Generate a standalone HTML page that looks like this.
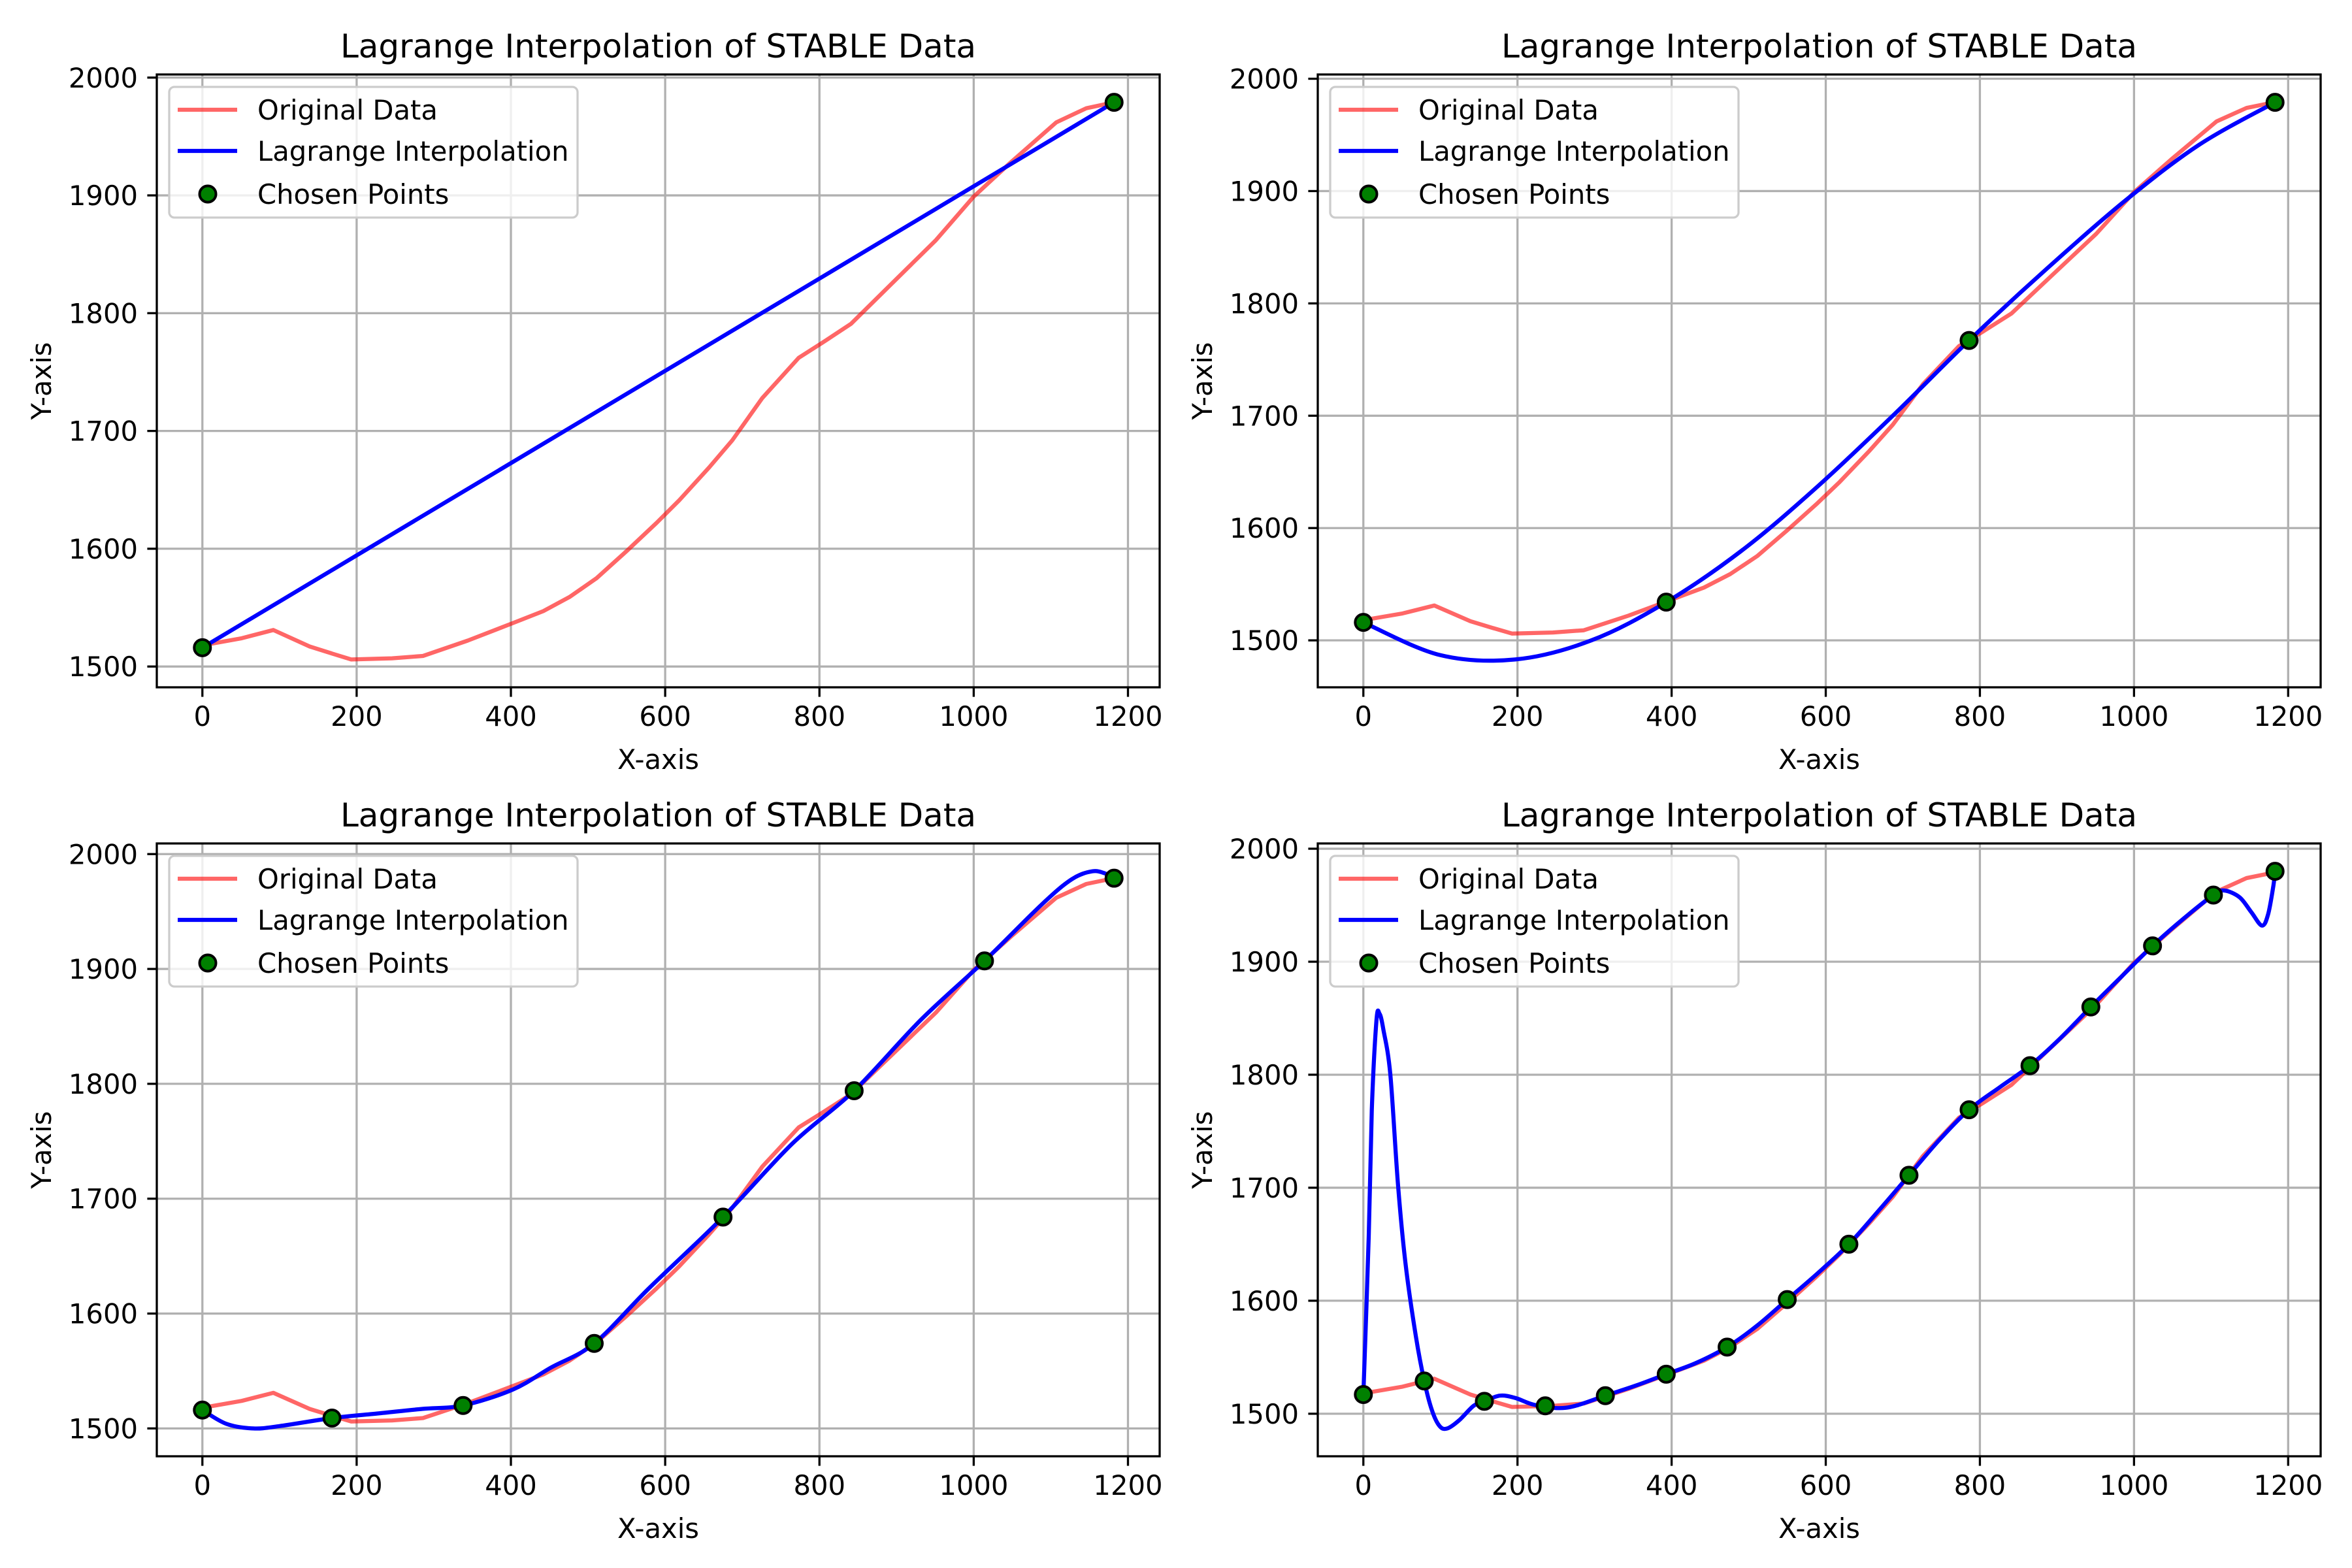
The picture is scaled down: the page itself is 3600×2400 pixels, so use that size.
<!DOCTYPE html>
<html>
<head>
<meta charset="utf-8">
<style>
html,body{margin:0;padding:0;background:#fff;}
svg{display:block;}
text{font-family:"DejaVu Sans","Liberation Sans",sans-serif;fill:#000;}
</style>
</head>
<body>
<svg id="fig" xmlns="http://www.w3.org/2000/svg" width="3600" height="2400" viewBox="0 0 3600 2400">
<rect x="0" y="0" width="3600" height="2400" fill="#ffffff"/>
</svg>
<script>
// ---- data ----
const origX = [0,51,92,139,168,193,246,286,344,403,442,476,511,550,589,618,657,687,726,773,804,841,892,951,1000,1048,1107,1146,1182];
const origY = [1518,1524,1531,1517,1511,1506,1507,1509,1522,1537,1547,1559,1575,1598,1622,1641,1669,1692,1728,1762,1775,1791,1824,1862,1899,1928,1962,1974,1979];

const chosenX1 = [0,1182];
const chosenY1 = [1516,1979];
const lagX1 = [0,1182];
const lagY1 = [1516,1979];

const chosenX2 = [0,393,786,1183];
const chosenY2 = [1516,1534,1767,1979];
const lagX2 = [0,99,197,296,393,493,591,690,786,887,986,1084,1183];
const lagY2 = [1516,1487,1483,1500,1534,1581,1638,1702,1767,1831,1890,1941,1979];

const chosenX3 = [0,168,338,508,675,845,1014,1182];
const chosenY3 = [1516,1509,1520,1574,1684,1794,1907,1979];
const lagX3 = [0,31,66,100,168,227,285,338,403,452,508,579,675,765,845,932,1014,1088,1127,1154,1171,1182];
const lagY3 = [1516,1504,1500,1502,1509,1513,1517,1520,1534,1553,1574,1622,1684,1748,1794,1856,1907,1956,1978,1985,1983,1979];

const chosenX4 = [0,79,157,236,314,393,472,550,630,708,786,865,944,1024,1103,1183];
const chosenY4 = [1517,1529,1511,1507,1516,1535,1559,1601,1650,1711,1769,1808,1860,1914,1959,1980];
const lagX4 = [0,7,11,17,21,26,35,45,55,68,79,89,99,109,124,143,157,177,197,221,251,275,314,354,393,432,472,511,550,589,630,669,708,747,786,826,865,904,944,984,1024,1064,1103,1117,1137,1152,1166,1174,1181,1183];
const lagY4 = [1517,1657,1769,1848,1854,1840,1800,1702,1631,1569,1529,1503,1489,1487,1494,1507,1511,1516,1514,1508,1505,1507,1516,1525,1535,1545,1559,1578,1601,1624,1650,1680,1711,1742,1769,1789,1808,1832,1860,1887,1914,1938,1959,1963,1957,1944,1932,1942,1968,1980];

const xTicks = [0,200,400,600,800,1000,1200];
const yTicks = [1500,1600,1700,1800,1900,2000];
const titleText = "Lagrange Interpolation of STABLE Data";
const legendLabels = ["Original Data","Lagrange Interpolation","Chosen Points"];

// ---- rendering ----
const NS = "http://www.w3.org/2000/svg";
const fig = document.getElementById('fig');
function mk(tag, attrs, parent){
  const e = document.createElementNS(NS, tag);
  for (const k in attrs) e.setAttribute(k, attrs[k]);
  (parent||fig).appendChild(e);
  return e;
}
function pathFrom(xs, ys, sx, sy){
  let d = '';
  for (let i=0;i<xs.length;i++){
    d += (i?'L':'M') + sx(xs[i]).toFixed(1) + ',' + sy(ys[i]).toFixed(1);
  }
  return d;
}
function smoothPath(xs, ys, sx, sy){
  const P = xs.map((x,i)=>[sx(x), sy(ys[i])]);
  if (P.length < 3) return pathFrom(xs, ys, sx, sy);
  let d = 'M'+P[0][0].toFixed(1)+','+P[0][1].toFixed(1);
  for (let i=0;i<P.length-1;i++){
    const p0 = P[Math.max(0,i-1)], p1 = P[i], p2 = P[i+1], p3 = P[Math.min(P.length-1,i+2)];
    const c1x = p1[0]+(p2[0]-p0[0])/6, c1y = p1[1]+(p2[1]-p0[1])/6;
    const c2x = p2[0]-(p3[0]-p1[0])/6, c2y = p2[1]-(p3[1]-p1[1])/6;
    d += 'C'+c1x.toFixed(1)+','+c1y.toFixed(1)+' '+c2x.toFixed(1)+','+c2y.toFixed(1)+' '+p2[0].toFixed(1)+','+p2[1].toFixed(1);
  }
  return d;
}

function drawPanel(idx, left, top, cx, cy, lx, ly){
  const W = 1535, H = 938;
  const g = mk('g', {});
  
  
  const allX = origX.concat(cx, lx);
  const allY = origY.concat(cy, ly);
  const xmin = Math.min(...allX), xmax = Math.max(...allX);
  const ymin = Math.min(...allY), ymax = Math.max(...allY);
  const xm = (xmax-xmin)*0.05, ym = (ymax-ymin)*0.05;
  const x0 = xmin-xm, x1 = xmax+xm, y0 = ymin-ym, y1 = ymax+ym;
  const sx = v => left + (v-x0)/(x1-x0)*W;
  const sy = v => top + H - (v-y0)/(y1-y0)*H;

  const grid = mk('g', {}, g);
  
  
  xTicks.forEach(t=>{
    const X = sx(t);
    if (X < left-1 || X > left+W+1) return;
    const l = mk('line', {x1:X, y1:top, x2:X, y2:top+H, stroke:'#b0b0b0', 'stroke-width':3.3}, grid);
    
    
  });
  yTicks.forEach(t=>{
    const Y = sy(t);
    if (Y < top-1 || Y > top+H+1) return;
    const l = mk('line', {x1:left, y1:Y, x2:left+W, y2:Y, stroke:'#b0b0b0', 'stroke-width':3.3}, grid);
    
    
  });

  const cid = 'clip'+idx;
  const cp = mk('clipPath', {id:cid}, g);
  mk('rect', {x:left, y:top, width:W, height:H}, cp);
  const plot = mk('g', {'clip-path':'url(#'+cid+')'}, g);

  const red = mk('path', {d:pathFrom(origX, origY, sx, sy), fill:'none', stroke:'#ff0000', 'stroke-opacity':0.6, 'stroke-width':6.25, 'stroke-linejoin':'round', 'stroke-linecap':'square'}, plot);
  
  
  const blue = mk('path', {d:smoothPath(lx, ly, sx, sy), fill:'none', stroke:'#0000ff', 'stroke-width':6.25, 'stroke-linejoin':'round', 'stroke-linecap':'square'}, plot);
  
  
  cx.forEach((x,i)=>{
    const c = mk('circle', {cx:sx(x), cy:sy(cy[i]), r:12.5, fill:'#008000', stroke:'#000', 'stroke-width':4}, g);
    
    
  });

  const sp = mk('rect', {x:left, y:top, width:W, height:H, fill:'none', stroke:'#000', 'stroke-width':3.3}, g);
  
  

  xTicks.forEach(t=>{
    const X = sx(t);
    mk('line', {x1:X, y1:top+H, x2:X, y2:top+H+14.6, stroke:'#000', 'stroke-width':3.3}, g);
    const tx = mk('text', {x:X, y:top+H+59, 'font-size':41.7, 'text-anchor':'middle'}, g);
    tx.textContent = t;
    
    
  });
  yTicks.forEach(t=>{
    const Y = sy(t);
    mk('line', {x1:left-14.6, y1:Y, x2:left, y2:Y, stroke:'#000', 'stroke-width':3.3}, g);
    const ty = mk('text', {x:left-29, y:Y+15, 'font-size':41.7, 'text-anchor':'end'}, g);
    ty.textContent = t;
    
    
  });

  const xl = mk('text', {x:left+W/2, y:top+H+125, 'font-size':41.7, 'text-anchor':'middle'}, g);
  xl.textContent = 'X-axis';
  
  
  const ycx = left-177+15, ycy = top+H/2;
  const yl = mk('text', {x:ycx, y:ycy, 'font-size':41.7, 'text-anchor':'middle', transform:'rotate(-90 '+ycx+' '+ycy+')'}, g);
  yl.textContent = 'Y-axis';
  
  
  const tt = mk('text', {x:left+W/2, y:top-26, 'font-size':50, 'text-anchor':'middle'}, g);
  tt.textContent = titleText;
  
  

  const lg = mk('g', {}, g);
  
  
  const L = left+19, T = top+19;
  mk('rect', {x:L, y:T, width:625, height:200, rx:8, fill:'#ffffff', 'fill-opacity':0.8, stroke:'#cccccc', 'stroke-width':3.3}, lg);
  const rowY = [T+35, T+98, T+164];
  const e1 = mk('line', {x1:L+13, y1:rowY[0], x2:L+104, y2:rowY[0], stroke:'#ff0000', 'stroke-opacity':0.6, 'stroke-width':6.25}, lg);
  
  
  const e2 = mk('line', {x1:L+13, y1:rowY[1], x2:L+104, y2:rowY[1], stroke:'#0000ff', 'stroke-width':6.25}, lg);
  
  
  const e3 = mk('circle', {cx:L+59, cy:rowY[2], r:12.5, fill:'#008000', stroke:'#000', 'stroke-width':4}, lg);
  
  
  legendLabels.forEach((s,i)=>{
    const t = mk('text', {x:L+135, y:rowY[i]+15, 'font-size':41.7}, lg);
    t.textContent = s;
    
    
  });
}

drawPanel(1, 240, 114, chosenX1, chosenY1, lagX1, lagY1);
drawPanel(2, 2017, 114, chosenX2, chosenY2, lagX2, lagY2);
drawPanel(3, 240, 1291, chosenX3, chosenY3, lagX3, lagY3);
drawPanel(4, 2017, 1291, chosenX4, chosenY4, lagX4, lagY4);
</script>
</body>
</html>
